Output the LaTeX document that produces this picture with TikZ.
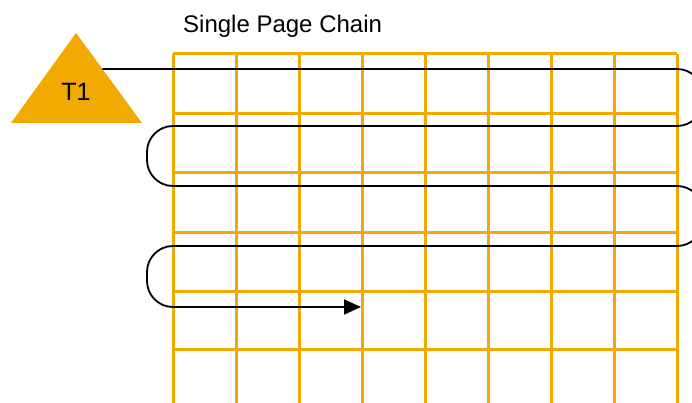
\documentclass[tikz,border=0pt]{standalone}
\usepackage{fontspec}
\setmainfont{Liberation Sans}
\usetikzlibrary{arrows.meta, calc}
\definecolor{pageorange}{RGB}{242,169,0}

\begin{document}
\begin{tikzpicture}[%
    x=1pt,
    y=-1pt,
    >={Triangle[length=17pt, width=15pt]},
    page/.style={draw=pageorange, line width=3pt},
    chain/.style={draw=black, line width=1.8pt, rounded corners=26pt},
    label/.style={inner sep=0pt, font=\fontsize{24}{28}\selectfont}
  ]
  \useasboundingbox (0,0) rectangle (692,403);

  % pages
  \foreach \x in {173,236,...,677}
    \draw[page] (\x,54) -- (\x,410);
  \foreach \y in {54,114,173,232,291,349}
    \draw[page] (173,\y) -- (677,\y);

  % table
  \coordinate (top) at (76,33);
  \coordinate (left) at (11,123);
  \coordinate (right) at (142,123);
  \fill[pageorange] (top) -- (right) -- (left) -- cycle;
  \node[label, font=\fontsize{25}{30}\selectfont] (T1) at (76,92) {T1};

  \node[label, anchor=base west] (title) at (183,33) {Single Page Chain};

  % chain
  \coordinate (start) at ($(top)!0.4!(right)$);
  \coordinate (r1) at (703,126);
  \coordinate (l1) at (147,186);
  \coordinate (r2) at (703,246);
  \coordinate (l2) at (147,307);
  \coordinate (end) at (361,307);
  \draw[chain, ->] (start) -| (r1) -| (l1) -| (r2) -| (l2) -- (end);
\end{tikzpicture}
\end{document}
